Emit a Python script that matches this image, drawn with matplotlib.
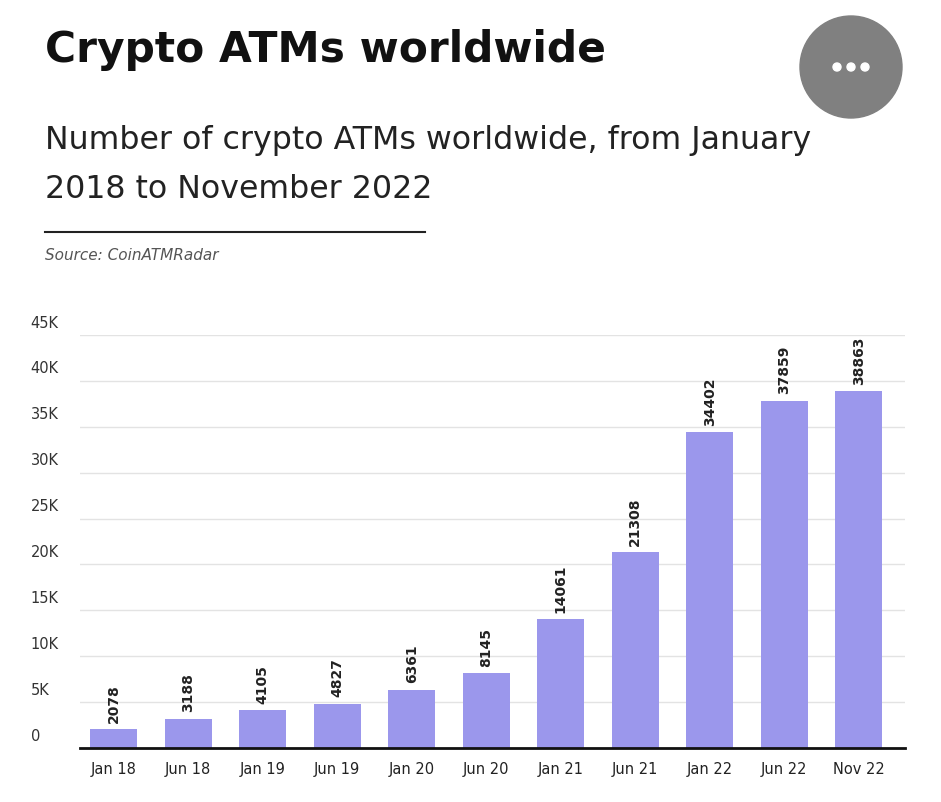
import matplotlib
matplotlib.use("Agg")
import matplotlib.pyplot as plt
from matplotlib.patches import Ellipse

categories = ["Jan 18","Jun 18","Jan 19","Jun 19","Jan 20","Jun 20","Jan 21","Jun 21","Jan 22","Jun 22","Nov 22"]
values = [2078,3188,4105,4827,6361,8145,14061,21308,34402,37859,38863]
yticks = [0,5000,10000,15000,20000,25000,30000,35000,40000,45000]
ytick_labels = ["0","5K","10K","15K","20K","25K","30K","35K","40K","45K"]

W, H = 941, 802
fig = plt.figure(figsize=(W/100, H/100), dpi=100)
ax = fig.add_axes([80/W, 1-748/H, 825/W, (748-335)/H])
x = range(len(values))
ax.bar(x, values, width=0.63, color="#9b97ec", zorder=3)
for xi, v in zip(x, values):
    ax.text(xi, v + 700, str(v), rotation=90, ha="center", va="bottom",
            fontsize=10, fontweight="bold", color="#222222")
ax.set_xlim(-0.45, len(values)-1+0.62)
ax.set_ylim(0, 45000)
ax.set_yticks(yticks)
ax.set_yticklabels([])
for t, l in zip(yticks, ytick_labels):
    ax.text(-0.06, t + 1300, l, transform=ax.get_yaxis_transform(), fontsize=10.5,
            color="#333333", ha="left", va="center")
ax.set_xticks(list(x))
ax.set_xticklabels(categories, fontsize=10.5, color="#222222")
ax.tick_params(axis="both", length=0, pad=10)
ax.grid(axis="y", color="#e3e3e3", linewidth=1, zorder=0)
for s in ["top", "right", "left"]:
    ax.spines[s].set_visible(False)
ax.spines["bottom"].set_linewidth(2)
ax.spines["bottom"].set_color("#111111")
ax.spines["bottom"].set_zorder(4)

fig.text(45/W, 1-50/H, "Crypto ATMs worldwide", fontsize=30.5, fontweight="bold",
         color="#111111", va="center", ha="left")
fig.text(45/W, 1-140/H, "Number of crypto ATMs worldwide, from January", fontsize=22.8,
         color="#222222", va="center", ha="left")
fig.text(45/W, 1-190/H, "2018 to November 2022", fontsize=22.8,
         color="#222222", va="center", ha="left")
fig.add_artist(plt.Line2D([45/W, 425/W], [1-232/H, 1-232/H], color="#222222", linewidth=1.5))
fig.text(45/W, 1-255/H, "Source: CoinATMRadar", fontsize=11, style="italic",
         color="#555555", va="center", ha="left")
fig.add_artist(Ellipse((851/W, 1-67/H), 102/W, 102/H, color="#808080", transform=fig.transFigure))
for dx in (-14, 0, 14):
    fig.add_artist(Ellipse(((851+dx)/W, 1-67/H), 8/W, 8/H, color="white", transform=fig.transFigure))

fig.savefig("out.png", dpi=100, facecolor="white")
